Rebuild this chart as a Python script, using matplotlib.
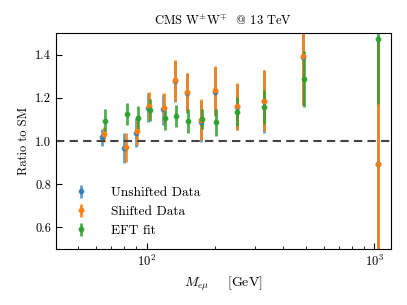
import matplotlib
matplotlib.use("Agg")
import matplotlib.pyplot as plt
import numpy as np

plt.rcParams['font.family'] = 'serif'
plt.rcParams['font.serif'] = ['cmr10']
plt.rcParams['mathtext.fontset'] = 'cm'
plt.rcParams['axes.formatter.use_mathtext'] = True
plt.rcParams['axes.unicode_minus'] = False

# bin centres [GeV]
mass = [65, 81, 91, 103, 119, 134, 151, 174, 201, 250, 329, 489, 1041]

unshifted = [1.017, 0.966, 1.039, 1.155, 1.147, 1.276, 1.222, 1.090, 1.229, 1.157, 1.183, 1.387, 0.892]
unshifted_err = [0.040, 0.070, 0.066, 0.066, 0.072, 0.094, 0.093, 0.093, 0.112, 0.108, 0.144, 0.22, 0.57]

shifted = [1.031, 0.971, 1.048, 1.164, 1.153, 1.282, 1.226, 1.098, 1.234, 1.160, 1.187, 1.395, 0.892]
shifted_err = [0.035, 0.068, 0.067, 0.065, 0.068, 0.095, 0.090, 0.095, 0.114, 0.108, 0.142, 0.228, 0.57]

eft = [1.094, 1.124, 1.106, 1.144, 1.106, 1.115, 1.093, 1.102, 1.087, 1.136, 1.157, 1.287, 1.471]
eft_err = [0.052, 0.050, 0.056, 0.050, 0.057, 0.050, 0.054, 0.048, 0.062, 0.068, 0.080, 0.130, 0.30]

fig = plt.figure(figsize=(4.07, 3.05), dpi=100)
ax = fig.add_axes([0.1376, 0.1836, 0.8231, 0.7082])

m = np.array(mass, dtype=float)
ax.errorbar(m - 1, unshifted, yerr=unshifted_err, fmt='o', color='#1f77b4',
            ms=3.2, elinewidth=2, alpha=0.7, label='Unshifted Data')
ax.errorbar(m, shifted, yerr=shifted_err, fmt='o', color='#ff7f0e',
            ms=3.2, elinewidth=2, alpha=0.9, label='Shifted Data')
ax.errorbar(m + 1, eft, yerr=eft_err, fmt='o', color='#2ca02c',
            ms=3.2, elinewidth=2, alpha=0.85, label='EFT fit')

ax.axhline(1.0, color='#444444', ls='--', lw=1.5, dashes=(4, 2.5))

ax.set_xscale('log')
ax.set_xlim(40, 1188)
ax.set_ylim(0.5, 1.5)
ax.set_yticks([0.6, 0.8, 1.0, 1.2, 1.4])
ax.set_yticklabels(['0.6', '0.8', '1.0', '1.2', '1.4'])

ax.tick_params(which='both', direction='in', labelsize=9)
ax.tick_params(which='major', length=4)
ax.tick_params(which='minor', length=2)

ax.set_title(r'CMS W$^{\pm}$W$^{\mp}$  @ 13 TeV', fontsize=9)
ax.set_ylabel('Ratio to SM', fontsize=9)
ax.set_xlabel(r'$M_{e\mu}$    [GeV]', fontsize=10)

ax.legend(loc='lower left', frameon=False, fontsize=9.6, handletextpad=1.25,
          labelspacing=0.5, bbox_to_anchor=(0.0, 0.0))

fig.savefig('out.png', dpi=100)
